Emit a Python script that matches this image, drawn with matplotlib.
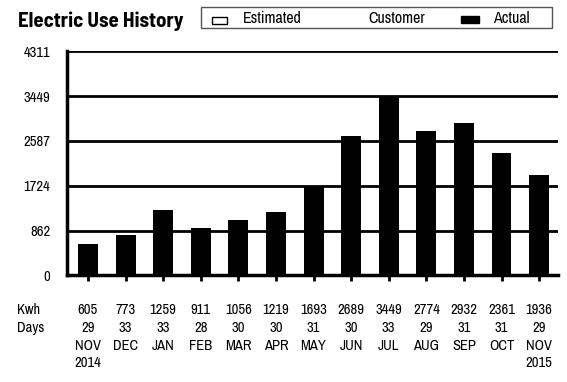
import matplotlib
matplotlib.use("Agg")
import matplotlib.pyplot as plt
import matplotlib.transforms as mtransforms
from matplotlib.patches import Rectangle

months = ["NOV", "DEC", "JAN", "FEB", "MAR", "APR", "MAY", "JUN", "JUL", "AUG", "SEP", "OCT", "NOV"]
years = ["2014", "", "", "", "", "", "", "", "", "", "", "", "2015"]
kwh = [605, 773, 1259, 911, 1056, 1219, 1693, 2689, 3449, 2774, 2932, 2361, 1936]
days = [29, 33, 33, 28, 30, 30, 31, 30, 33, 29, 31, 31, 29]
yticks = [0, 862, 1724, 2587, 3449, 4311]

plt.rcParams['font.family'] = ['Archivo Narrow', 'DejaVu Sans']
FS = 10.5

fig = plt.figure(figsize=(5.67, 3.82), dpi=100, facecolor="white")
ax = fig.add_axes([0.118, 0.279, 0.866, 0.587])

x = list(range(len(kwh)))
ax.bar(x, kwh, width=0.53, color="black", zorder=3)

ax.set_ylim(0, 4311)
ax.set_xlim(-0.56, 12.5)
ax.set_yticks(yticks)
ax.set_yticklabels([str(v) for v in yticks], fontsize=FS)
ax.tick_params(axis="y", length=0, pad=12)
ax.set_xticks(x)
ax.set_xticklabels([])
ax.tick_params(axis="x", length=4.5, width=2, direction="out")
for v in yticks[1:]:
    ax.axhline(v, color="black", lw=2, zorder=2)
ax.spines["right"].set_visible(False)
ax.spines["top"].set_visible(False)
ax.spines["left"].set_linewidth(2.5)
ax.spines["bottom"].set_linewidth(2.5)

trans = mtransforms.blended_transform_factory(ax.transData, fig.transFigure)
for i in x:
    ax.text(i, 1 - 310 / 382, str(kwh[i]), transform=trans, ha="center", va="center", fontsize=FS)
    ax.text(i, 1 - 328 / 382, str(days[i]), transform=trans, ha="center", va="center", fontsize=FS)
    ax.text(i, 1 - 346 / 382, months[i], transform=trans, ha="center", va="center", fontsize=FS)
    if years[i]:
        ax.text(i, 1 - 363 / 382, years[i], transform=trans, ha="center", va="center", fontsize=FS)
fig.text(17 / 567, 1 - 310 / 382, "Kwh", ha="left", va="center", fontsize=FS)
fig.text(17 / 567, 1 - 328 / 382, "Days", ha="left", va="center", fontsize=FS)

# title and legend box
fig.text(18 / 567, 1 - 21 / 382, "Electric Use History", ha="left", va="center",
         fontsize=15, fontweight="bold", family=["Barlow Semi Condensed", "DejaVu Sans"])
fig.patches.append(Rectangle((201 / 567, 1 - 28 / 382), 351 / 567, 21 / 382,
                             transform=fig.transFigure, fill=False, ec="#555555", lw=1))
fig.patches.append(Rectangle((212 / 567, 1 - 24 / 382), 15 / 567, 7 / 382,
                             transform=fig.transFigure, fc="white", ec="black", lw=1))
fig.text(243 / 567, 1 - 18.5 / 382, "Estimated", ha="left", va="center", fontsize=11.5)
fig.text(368 / 567, 1 - 18.5 / 382, "Customer", ha="left", va="center", fontsize=11.5)
fig.patches.append(Rectangle((461 / 567, 1 - 23 / 382), 18 / 567, 7 / 382,
                             transform=fig.transFigure, fc="black", ec="black", lw=1))
fig.text(493 / 567, 1 - 18.5 / 382, "Actual", ha="left", va="center", fontsize=11.5)

fig.savefig("out.png", dpi=100, facecolor="white")
